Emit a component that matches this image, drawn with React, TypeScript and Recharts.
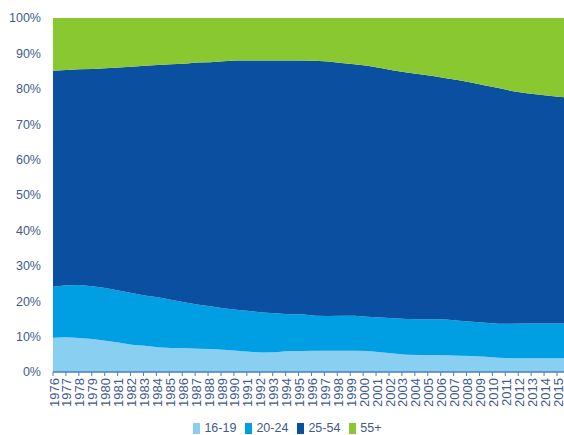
import React from 'react';
import { AreaChart, Area, XAxis, YAxis, Legend } from 'recharts';

const years = [
  1976, 1977, 1978, 1979, 1980, 1981, 1982, 1983, 1984, 1985,
  1986, 1987, 1988, 1989, 1990, 1991, 1992, 1993, 1994, 1995,
  1996, 1997, 1998, 1999, 2000, 2001, 2002, 2003, 2004, 2005,
  2006, 2007, 2008, 2009, 2010, 2011, 2012, 2013, 2014, 2015,
];

const age1619 = [
  9.7, 9.8, 9.6, 9.3, 8.8, 8.3, 7.7, 7.4, 7.0, 6.8,
  6.8, 6.6, 6.5, 6.3, 6.0, 5.7, 5.5, 5.6, 5.9, 5.9,
  6.0, 6.0, 6.0, 6.0, 5.9, 5.6, 5.2, 4.9, 4.8, 4.8,
  4.7, 4.6, 4.5, 4.3, 4.0, 3.9, 3.9, 3.9, 3.9, 3.9,
];

const age2024 = [
  14.4, 14.7, 15.0, 14.9, 14.9, 14.7, 14.6, 14.2, 14.1, 13.6,
  12.9, 12.5, 12.1, 11.7, 11.6, 11.5, 11.3, 11.0, 10.4, 10.4,
  9.9, 9.8, 9.9, 9.9, 9.7, 9.8, 10.0, 10.1, 10.1, 10.1,
  10.1, 9.9, 9.7, 9.6, 9.6, 9.7, 9.8, 9.8, 9.8, 9.8,
];

const age2554 = [
  61.0, 60.8, 60.9, 61.4, 62.1, 63.0, 63.9, 64.9, 65.6, 66.5,
  67.4, 68.3, 68.9, 69.8, 70.4, 70.8, 71.2, 71.4, 71.7, 71.7,
  72.0, 71.9, 71.4, 71.0, 70.9, 70.5, 70.0, 69.6, 69.2, 68.7,
  68.2, 67.9, 67.5, 67.0, 66.6, 65.8, 65.1, 64.7, 64.3, 63.9,
];

const age55 = [
  14.9, 14.7, 14.5, 14.4, 14.2, 14.0, 13.8, 13.5, 13.3, 13.1,
  12.9, 12.6, 12.5, 12.2, 12.0, 12.0, 12.0, 12.0, 12.0, 12.0,
  12.1, 12.3, 12.7, 13.1, 13.5, 14.1, 14.8, 15.4, 15.9, 16.4,
  17.0, 17.6, 18.3, 19.1, 19.8, 20.6, 21.2, 21.6, 22.0, 22.4,
];

const seriesNames = ['16-19', '20-24', '25-54', '55+'];
const seriesColors = ['#88cff2', '#009fe3', '#0a4fa0', '#8ac832'];
const yTicks = [0, 10, 20, 30, 40, 50, 60, 70, 80, 90, 100];

const seriesValues = [age1619, age2024, age2554, age55];

const data = years.map((year, i) => {
  const row: Record<string, number> = { year };
  seriesNames.forEach((name, s) => {
    row[name] = seriesValues[s][i];
  });
  return row;
});

const FONT = '"Liberation Sans", Arial, sans-serif';
const TEXT = '#3f5b8c';
const AXIS = '#4a7fc1';
// the year ticks sit at year starts; the monthly area runs a little past the last one
const END_INSET = 7;

const XTick = (props: any) => {
  const { x, y, payload, index, visibleTicksCount } = props;
  const n = Math.max(1, (visibleTicksCount || years.length) - 1);
  const tx = x - (END_INSET * index) / n;
  return (
    <g>
      <line x1={tx} y1={y - 6} x2={tx} y2={y - 2} stroke={AXIS} strokeWidth={1} />
      <text
        x={tx + 1}
        y={y}
        transform={`rotate(-90 ${tx + 1} ${y})`}
        textAnchor="end"
        dominantBaseline="central"
        fontSize={13}
        fontFamily={FONT}
        fill={TEXT}
      >
        {payload.value}
      </text>
    </g>
  );
};

const LegendContent = () => (
  <div
    style={{
      display: 'flex',
      justifyContent: 'center',
      alignItems: 'center',
      height: 14,
      paddingLeft: 11,
      fontSize: 12.5,
      fontFamily: FONT,
      color: TEXT,
      lineHeight: '14px',
    }}
  >
    {seriesNames.map((name, i) => (
      <div key={name} style={{ display: 'flex', alignItems: 'center', marginRight: i < seriesNames.length - 1 ? 9 : 0 }}>
        <span style={{ display: 'inline-block', width: 7, height: 11, background: seriesColors[i], marginRight: 4 }} />
        <span>{name}</span>
      </div>
    ))}
  </div>
);

export default function App() {
  return (
    <div style={{ position: 'absolute', left: 0, top: 0, width: 564, height: 435, background: '#fff' }}>
      <AreaChart
        width={564}
        height={435}
        data={data}
        margin={{ top: 18, right: 0, bottom: 0, left: 0 }}
      >
        {seriesNames.map((name, i) => (
          <Area
            key={name}
            type="linear"
            dataKey={name}
            stackId="a"
            stroke="none"
            fill={seriesColors[i]}
            fillOpacity={1}
            isAnimationActive={false}
          />
        ))}
        <XAxis
          dataKey="year"
          ticks={years}
          interval={0}
          minTickGap={0}
          tick={<XTick />}
          tickSize={4}
          tickLine={false}
          axisLine={{ stroke: AXIS, strokeWidth: 1.5 }}
          height={49}
        />
        <YAxis
          domain={[0, 100]}
          ticks={yTicks}
          tickFormatter={(v: number) => `${v}%`}
          width={53}
          tickSize={0}
          tickMargin={12}
          axisLine={false}
          tickLine={false}
          tick={{ fontSize: 12.5, fontFamily: FONT, fill: TEXT }}
          allowDataOverflow
        />
        <Legend verticalAlign="bottom" content={<LegendContent />} />
      </AreaChart>
    </div>
  );
}
